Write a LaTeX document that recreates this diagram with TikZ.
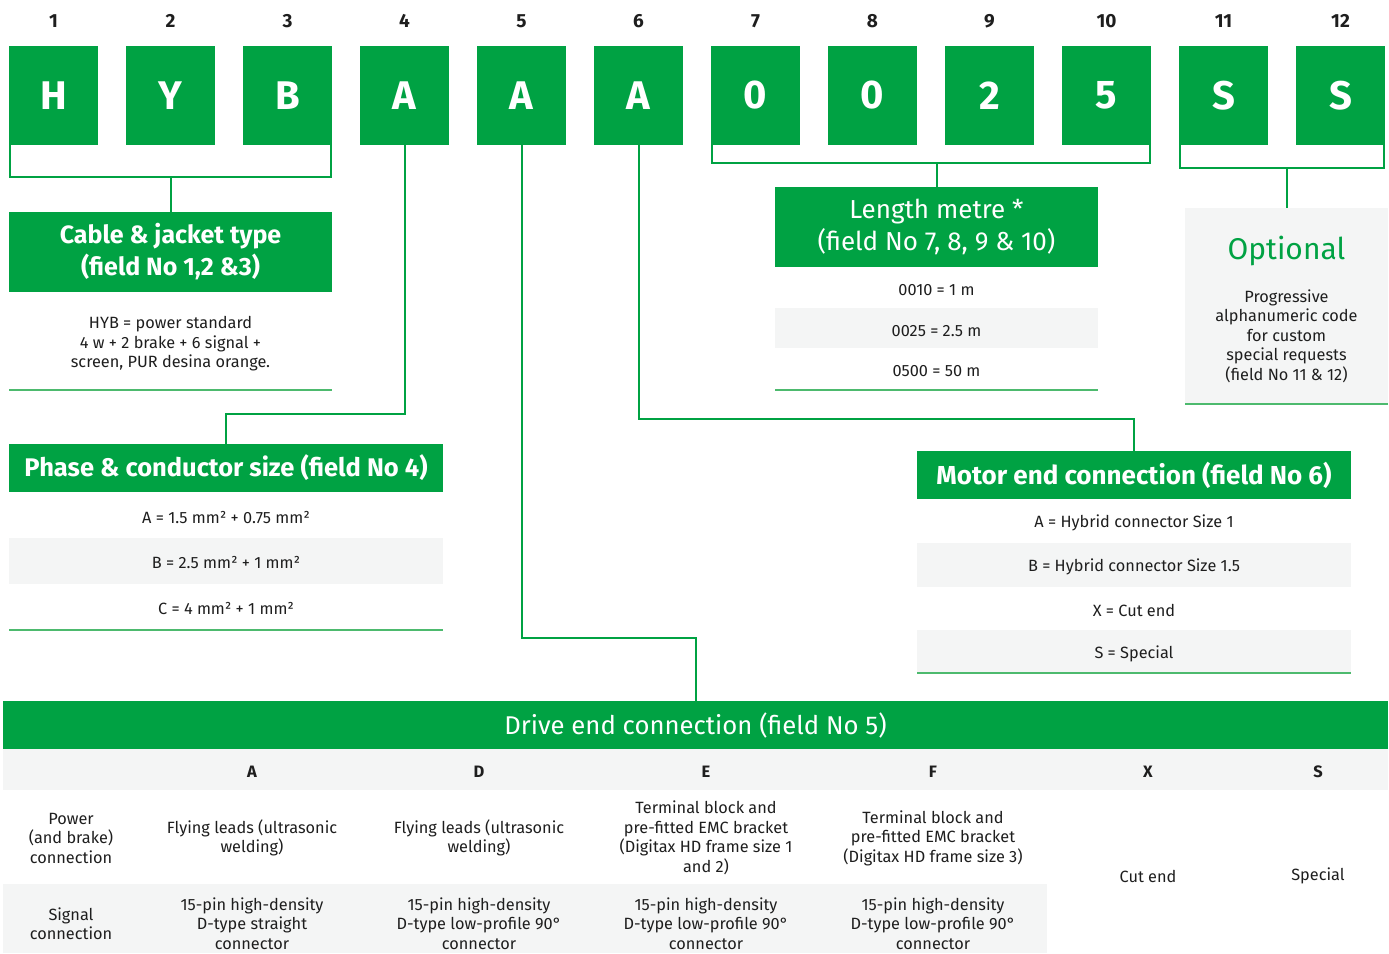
\documentclass[tikz,border=0pt]{standalone}
\usepackage{fontspec}
\setmainfont{Fira Sans}
\usepackage{tikz}
\usetikzlibrary{positioning}

\definecolor{hgreen}{HTML}{00A243}
\definecolor{lgreen}{HTML}{4DBA6E}
\definecolor{rowgrey}{HTML}{F4F5F5}
\definecolor{txtdark}{HTML}{1E1E1E}

\tikzset{
  field/.style={rectangle, fill=hgreen, text=white, minimum width=89, minimum height=99, inner sep=0, font=\fontsize{40}{40}\selectfont\bfseries},
  fieldno/.style={text=txtdark, inner sep=0, font=\fontsize{19}{19}\selectfont\bfseries},
  head/.style={rectangle, fill=hgreen, text=white, inner sep=0, align=center},
  link/.style={draw=hgreen, line width=2},
  rule/.style={draw=lgreen, line width=1.5},
  txt/.style={align=center, text=txtdark, inner sep=0, font=\fontsize{16.3}{19.5}\selectfont},
  colhead/.style={text=txtdark, inner sep=0, font=\fontsize{16.5}{16.5}\selectfont\bfseries},
}

\begin{document}
\begin{tikzpicture}[x=1pt, y=-1pt]
\useasboundingbox (0,0) rectangle (1389,953);

% Code fields
\foreach \i/\c in {1/H,2/Y,3/B,4/A,5/A,6/A,7/0,8/0,9/2,10/5,11/S,12/S} {
  \node[field] (f\i) at ({53.5+117*(\i-1)},95.5) {\c};
  \node[fieldno] (n\i) at ({53.5+117*(\i-1)},21) {\i};
}

% Grey rows
\fill[rowgrey] (9,538) rectangle (443,584);
\fill[rowgrey] (775,308) rectangle (1098,348);
\fill[rowgrey] (917,543) rectangle (1351,587);
\fill[rowgrey] (917,630) rectangle (1351,673);
\fill[rowgrey] (3,749) rectangle (1388,790);
\fill[rowgrey] (3,884) rectangle (1047,953);
\node[fill=rowgrey, minimum width=203, minimum height=195, inner sep=0] (optbox) at (1286.5,305.5) {};

% Headers
\node[head, minimum width=323, minimum height=80, font=\fontsize{25}{32}\selectfont\bfseries] (cable) at (170.5,252) {Cable \& jacket type\\(field No 1,2 \&3)};
\node[head, minimum width=434, minimum height=48, font=\fontsize{25.5}{25.5}\selectfont\bfseries] (phase) at (226,468) {Phase \& conductor size (field No 4)};
\node[head, minimum width=323, minimum height=80, font=\fontsize{26}{32}\selectfont] (length) at (936.5,227) {Length metre *\\(field No 7, 8, 9 \& 10)};
\node[head, minimum width=434, minimum height=48, font=\fontsize{26}{26}\selectfont\bfseries] (motor) at (1134,475) {Motor end connection (field No 6)};
\node[head, minimum width=1385, minimum height=48, font=\fontsize{25.7}{25.7}\selectfont] (drive) at (695.5,725) {Drive end connection (field No 5)};
\node[text=hgreen, inner sep=0, font=\fontsize{30}{30}\selectfont] (optional) at (1286.5,251) {Optional};

% Brackets
\coordinate (b13) at (170.5,177);
\coordinate (b710) at (936.5,163);
\coordinate (b1112) at (1286.5,168);
\draw[link] ([xshift=1]f1.south west) |- (b13) -| ([xshift=-1]f3.south east);
\draw[link] (b13) -- (cable.north);
\draw[link] ([xshift=1]f7.south west) |- (b710) -| ([xshift=-1]f10.south east);
\draw[link] (b710) -- (length.north);
\draw[link] ([xshift=1]f11.south west) |- (b1112) -| ([xshift=-1]f12.south east);
\draw[link] (b1112) -- (optbox.north);

% Single links
\draw[link] (f4.south) -- ++(0,269) -| (phase.north);
\draw[link] (f5.south) -- ++(0,493) -| (drive.north);
\draw[link] (f6.south) -- ++(0,274) -| (motor.north);

% Values
\node[txt] (hyb) at (170.5,344) {HYB = power standard\\4 w + 2 brake + 6 signal +\\screen, PUR desina orange.};
\node[txt] (pa) at (226,518) {A = 1.5 mm² + 0.75 mm²};
\node[txt] (pb) at (226,563) {B = 2.5 mm² + 1 mm²};
\node[txt] (pc) at (226,609) {C = 4 mm² + 1 mm²};
\node[txt] (la) at (936.5,290) {0010 = 1 m};
\node[txt] (lb) at (936.5,331) {0025 = 2.5 m};
\node[txt] (lc) at (936.5,371) {0500 = 50 m};
\node[txt] (oa) at (1286.5,336) {Progressive\\alphanumeric code\\for custom\\special requests\\(field No 11 \& 12)};
\node[txt] (ma) at (1134,523) {A = Hybrid connector Size 1};
\node[txt] (mb) at (1134,567) {B = Hybrid connector Size 1.5};
\node[txt] (mx) at (1134,610) {X = Cut end};
\node[txt] (ms) at (1134,654) {S = Special};

% Rules
\draw[rule] (9,390) -- (332,390);
\draw[rule] (9,630) -- (443,630);
\draw[rule] (775,390) -- (1098,390);
\draw[rule] (917,673) -- (1351,673);
\draw[rule] (1185,404) -- (1388,404);

% Drive end table
\foreach \l/\x in {A/252,D/479,E/706,F/933,X/1148,S/1318}
  \node[colhead] (c\l) at (\x,772) {\l};
\node[txt] (power) at (71,838) {Power\\(and brake)\\connection};
\node[txt] (pwA) at (252,838) {Flying leads (ultrasonic\\welding)};
\node[txt] (pwD) at (479,838) {Flying leads (ultrasonic\\welding)};
\node[txt] (pwE) at (706,838) {Terminal block and\\pre-fitted EMC bracket\\(Digitax HD frame size 1\\and 2)};
\node[txt] (pwF) at (933,838) {Terminal block and\\pre-fitted EMC bracket\\(Digitax HD frame size 3)};
\node[txt] (signal) at (71,923.5) {Signal\\connection};
\node[txt] (sgA) at (252,923.5) {15-pin high-density\\D-type straight\\connector};
\node[txt] (sgD) at (479,923.5) {15-pin high-density\\D-type low-profile 90°\\connector};
\node[txt] (sgE) at (706,923.5) {15-pin high-density\\D-type low-profile 90°\\connector};
\node[txt] (sgF) at (933,923.5) {15-pin high-density\\D-type low-profile 90°\\connector};
\node[txt] (cutX) at (1148,876) {Cut end};
\node[txt] (spS) at (1318,876) {Special};

\end{tikzpicture}
\end{document}
